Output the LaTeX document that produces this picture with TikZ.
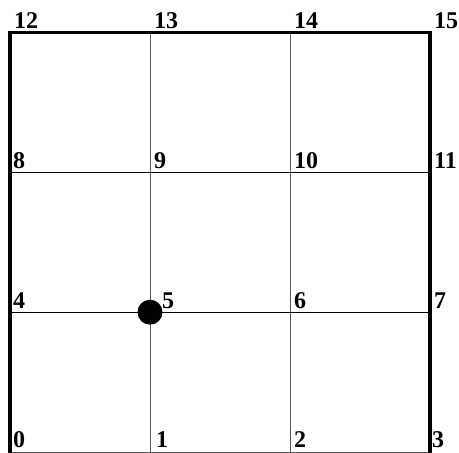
\documentclass[tikz,border=0pt]{standalone}
\usepackage{fontspec}
\setmainfont{Liberation Serif}
\tikzset{
  lab/.style={anchor=base west, inner sep=0pt, font=\fontsize{24}{26}\selectfont\bfseries},
  thin grid/.style={line width=0.8pt}
}
\begin{document}
\begin{tikzpicture}[x=1pt, y=1pt]
\useasboundingbox (0,0) rectangle (459,453);
% grid points 0..15
\foreach \i in {0,...,15} {
  \pgfmathtruncatemacro{\c}{mod(\i,4)}
  \pgfmathtruncatemacro{\r}{div(\i,4)}
  \coordinate (p\i) at ({10+140*\c},{1+139.8*\r});
}
% inner lines
\draw[thin grid, gray!70!black] (p1) -- (p13) (p2) -- (p14) (p0) -- (p3);
\draw[thin grid] (p4) -- (p7) (p8) -- (p11);
% border
\draw[line width=3.5pt, line cap=rect] (p0) -- (p12) -- (p15) -- (p3);
% point labels
\foreach \i/\dx in {0/3,1/6,2/4,3/2,4/3,6/4,7/4,8/3,9/4,10/4,11/4,12/4,13/4,14/4,15/4}
  \node[lab] (n\i) at ([shift={(\dx,4)}]p\i) {\i};
\node[lab] (n5) at ([shift={(12,4)}]p5) {5};
% marked point
\node[circle, fill, minimum size=25pt, inner sep=0pt] (dot) at (p5) {};
\end{tikzpicture}
\end{document}
